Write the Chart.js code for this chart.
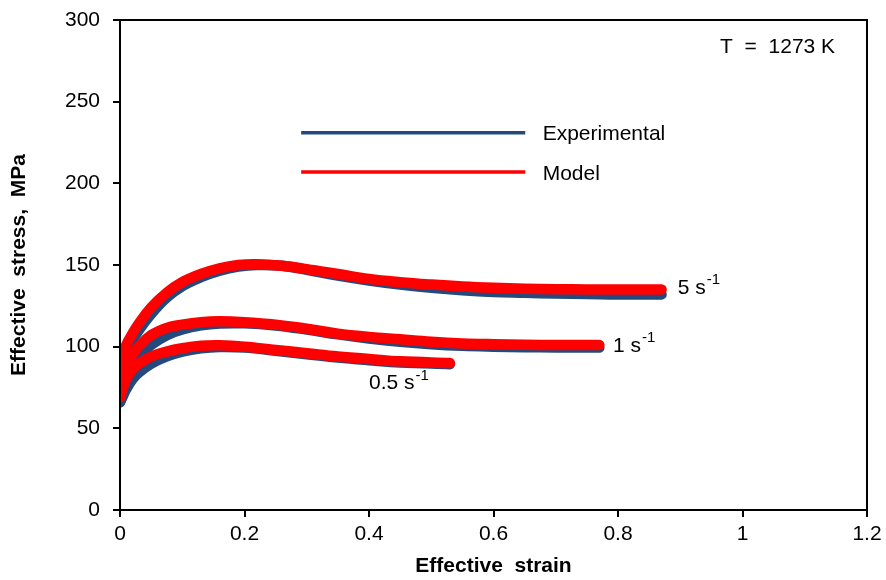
<!DOCTYPE html>
<html>
<head>
<meta charset="utf-8">
<script src="https://cdn.jsdelivr.net/npm/chart.js@4/dist/chart.umd.min.js"></script>
<style>
  html, body { margin: 0; padding: 0; background: #fff; }
  #wrap { width: 886px; height: 580px; }
</style>
</head>
<body>
<div id="wrap"><canvas id="myChart" width="886" height="580"></canvas></div>
<script>
// strain rate 5 s-1
const strain5 = [0, 0.005, 0.01, 0.02, 0.03, 0.05, 0.075, 0.1, 0.13, 0.16, 0.19, 0.22, 0.26, 0.3, 0.35, 0.4, 0.45, 0.5, 0.55, 0.6, 0.65, 0.7, 0.75, 0.8, 0.87];
const exp5   = [87, 92, 97, 104, 110, 120, 130, 137, 142.5, 146.5, 149, 150, 149.5, 147, 143.5, 140.5, 138, 136, 134.5, 133.5, 133, 132.5, 132.3, 132, 132];
const model5 = [88, 95, 101, 108, 114, 124, 133, 139.5, 144.5, 148, 150, 150.5, 149.5, 147.5, 144.5, 141.5, 139.5, 138, 136.8, 136, 135.5, 135.2, 135, 135, 135];

// strain rate 1 s-1
const strain1 = [0, 0.005, 0.01, 0.02, 0.03, 0.05, 0.075, 0.1, 0.13, 0.16, 0.2, 0.25, 0.3, 0.35, 0.4, 0.45, 0.5, 0.55, 0.6, 0.65, 0.7, 0.77];
const exp1   = [66, 72, 78, 87, 93, 101, 107, 110.5, 113, 114.2, 114.3, 113, 110.5, 107.5, 105, 103, 101.5, 100.5, 100, 99.7, 99.5, 99.5];
const model1 = [69, 78, 86, 95, 100, 107, 111.5, 113.5, 115, 115.5, 115, 113.5, 111, 108, 106, 104.5, 103, 102, 101.5, 101.2, 101, 101];

// strain rate 0.5 s-1
const strain05 = [0, 0.005, 0.01, 0.02, 0.03, 0.05, 0.075, 0.1, 0.13, 0.16, 0.2, 0.25, 0.3, 0.35, 0.4, 0.45, 0.53];
const exp05   = [66, 70, 74, 80, 84, 89.5, 94, 97, 99, 99.8, 99.5, 97.5, 95.3, 93.3, 91.7, 90.3, 89.3];
const model05 = [69, 75, 80, 86, 89.5, 94, 97, 99, 100.5, 100.8, 100, 98, 96, 94, 92.5, 91, 90];

const xTicks = [0, 0.2, 0.4, 0.6, 0.8, 1, 1.2];
const yTicks = [0, 50, 100, 150, 200, 250, 300];

// curve labels: [text, superscript, strain, stress]
const rateLabels = [
    ['5 s', '-1', 0.896, 136],
    ['1 s', '-1', 0.792, 100.5],
    ['0.5 s', '-1', 0.40, 77.5]
];

const blue = '#24497c';
const red = '#ff0000';
const font = '"Liberation Sans", Arial, sans-serif';

function pts(xs, ys) {
    return xs.map((x, i) => ({ x: x, y: ys[i] }));
}

function curve(label, xs, ys, color, order) {
    return {
        label: label,
        data: pts(xs, ys),
        borderColor: color,
        backgroundColor: color,
        borderWidth: 10.5,
        borderCapStyle: 'round',
        borderJoinStyle: 'round',
        showLine: true,
        pointRadius: 0,
        tension: 0.4,
        order: order
    };
}

// frame, legend and text labels
const extras = {
    id: 'extras',
    afterDatasetsDraw(chart) {
        const ctx = chart.ctx;
        const a = chart.chartArea;
        const xs = chart.scales.x, ys = chart.scales.y;
        ctx.save();

        // box around plot area
        ctx.strokeStyle = '#000';
        ctx.lineWidth = 2;
        ctx.strokeRect(a.left, a.top, a.right - a.left, a.bottom - a.top);

        // legend inside plot
        const legendItems = [['Experimental', blue, 231], ['Model', red, 207]];
        legendItems.forEach(it => {
            const y = ys.getPixelForValue(it[2]);
            ctx.strokeStyle = it[1];
            ctx.lineWidth = 3.5;
            ctx.beginPath();
            ctx.moveTo(xs.getPixelForValue(0.291), y);
            ctx.lineTo(xs.getPixelForValue(0.651), y);
            ctx.stroke();
            ctx.fillStyle = '#000';
            ctx.font = '21px ' + font;
            ctx.textBaseline = 'middle';
            ctx.textAlign = 'left';
            ctx.fillText(it[0], xs.getPixelForValue(0.679), y + 2);
        });

        // temperature
        ctx.font = '21px ' + font;
        ctx.textBaseline = 'middle';
        ctx.fillText('T  =  1273 K', xs.getPixelForValue(0.964), ys.getPixelForValue(284) + 1);

        // strain rate labels with superscript
        rateLabels.forEach(l => {
            const x = xs.getPixelForValue(l[2]);
            const y = ys.getPixelForValue(l[3]);
            ctx.font = '21px ' + font;
            ctx.textBaseline = 'middle';
            ctx.fillText(l[0], x, y);
            const w = ctx.measureText(l[0]).width;
            ctx.font = '15px ' + font;
            ctx.fillText(l[1], x + w + 1, y - 8);
        });

        ctx.restore();
    }
};

const ctx = document.getElementById('myChart').getContext('2d');
new Chart(ctx, {
    type: 'scatter',
    data: {
        datasets: [
            curve('Experimental', strain5, exp5, blue, 1),
            curve('Experimental', strain1, exp1, blue, 1),
            curve('Experimental', strain05, exp05, blue, 1),
            curve('Model', strain5, model5, red, 0),
            curve('Model', strain1, model1, red, 0),
            curve('Model', strain05, model05, red, 0)
        ]
    },
    options: {
        responsive: false,
        animation: false,
        layout: { padding: { top: 20, right: 19, left: 0, bottom: 0 } },
        plugins: {
            legend: { display: false },
            tooltip: { enabled: false }
        },
        scales: {
            x: {
                type: 'linear',
                min: 0,
                max: 1.2,
                afterBuildTicks: s => { s.ticks = xTicks.map(v => ({ value: v })); },
                afterFit: s => { s.height = 70; s.paddingLeft = 0; s.paddingRight = 0; },
                grid: { drawOnChartArea: false, color: '#000', tickLength: 7, lineWidth: 2 },
                border: { color: '#000', width: 2 },
                ticks: {
                    color: '#000',
                    padding: 5,
                    font: { family: font, size: 21 },
                    callback: v => String(v)
                },
                title: {
                    display: true,
                    text: 'Effective  strain',
                    color: '#000',
                    font: { family: font, size: 21, weight: 'bold' },
                    padding: { top: 0, bottom: 1 }
                }
            },
            y: {
                min: 0,
                max: 300,
                afterBuildTicks: s => { s.ticks = yTicks.map(v => ({ value: v })); },
                afterFit: s => { s.width = 120; s.paddingTop = 0; s.paddingBottom = 0; },
                grid: { drawOnChartArea: false, color: '#000', tickLength: 7, lineWidth: 2 },
                border: { color: '#000', width: 2 },
                ticks: {
                    color: '#000',
                    padding: 13,
                    font: { family: font, size: 21 }
                },
                title: {
                    display: true,
                    text: 'Effective  stress,  MPa',
                    color: '#000',
                    font: { family: font, size: 21, weight: 'bold' },
                    padding: { top: 7, bottom: 0 }
                }
            }
        }
    },
    plugins: [extras]
});
</script>
</body>
</html>
